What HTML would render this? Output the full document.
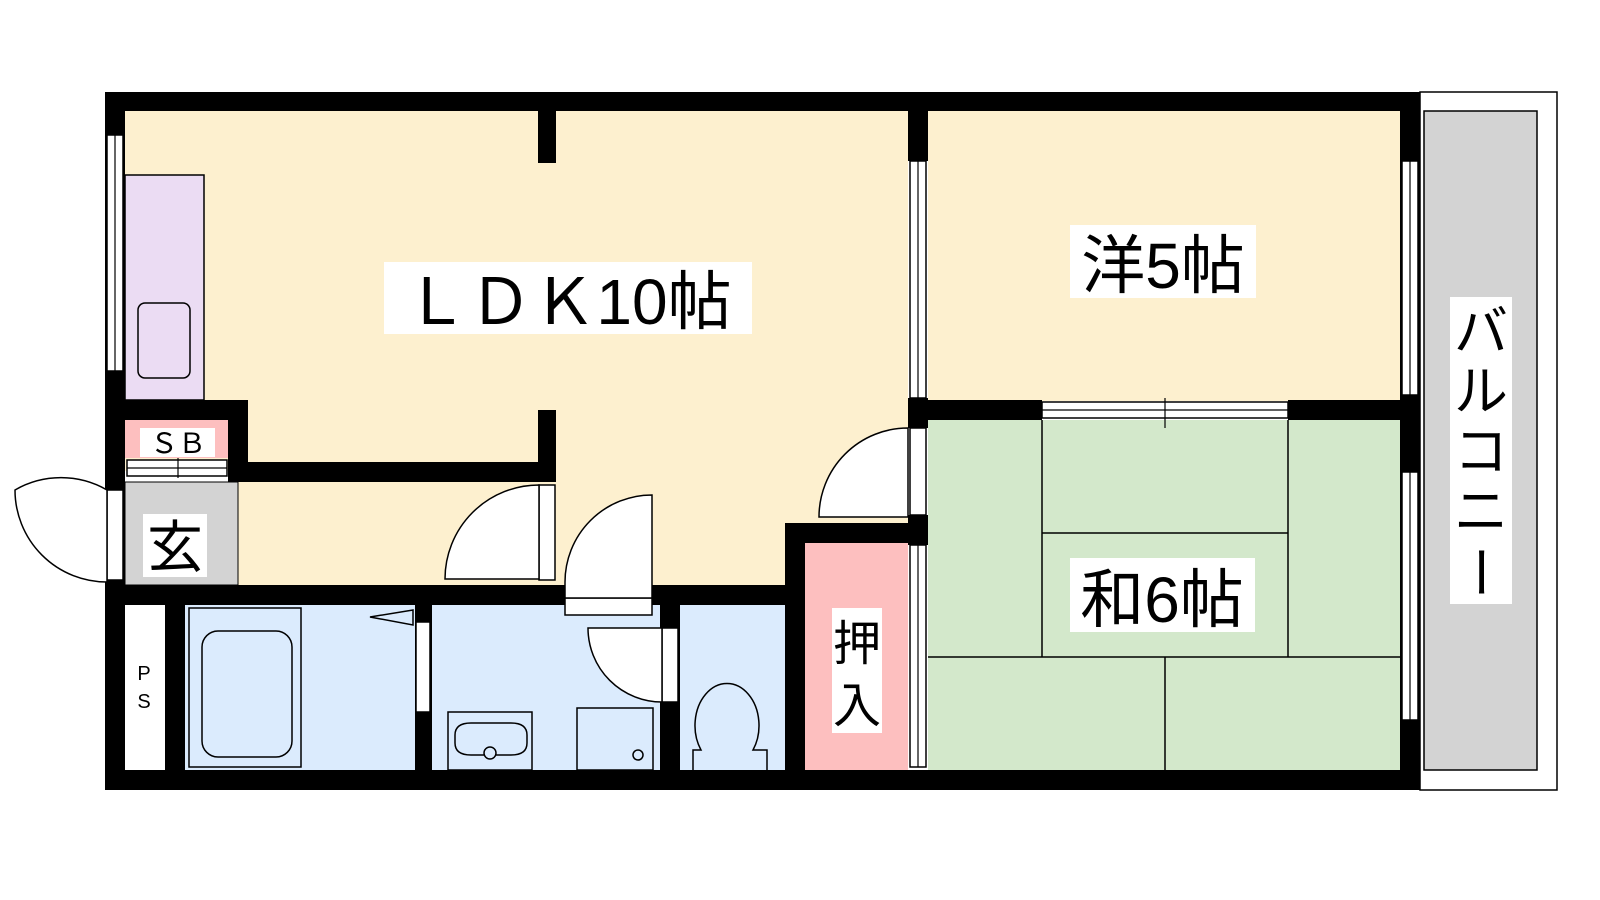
<!DOCTYPE html>
<html><head><meta charset="utf-8"><style>
html,body{margin:0;padding:0;background:#fff;}
svg{display:block;}
text{font-family:"Liberation Sans","Noto Sans CJK JP",sans-serif;}
</style></head><body>
<svg width="1600" height="900" viewBox="0 0 1600 900" xmlns="http://www.w3.org/2000/svg">
<rect width="1600" height="900" fill="#fff"/>
<!-- balcony -->
<rect x="1420" y="92" width="137" height="698" fill="#fff" stroke="#000" stroke-width="1.5"/>
<rect x="1424" y="111" width="113" height="659" fill="#d3d3d3" stroke="#000" stroke-width="1.5"/>
<!-- rooms -->
<rect x="125" y="111" width="783" height="360" fill="#fdf0cf"/>
<rect x="545" y="400" width="363" height="185" fill="#fdf0cf"/>
<rect x="238" y="470" width="310" height="115" fill="#fdf0cf"/>
<rect x="785" y="520" width="123" height="10" fill="#fdf0cf"/>
<rect x="928" y="111" width="472" height="290" fill="#fdf0cf"/>
<rect x="928" y="420" width="472" height="350" fill="#d3e8cb"/>
<rect x="805" y="543" width="103" height="227" fill="#fdbfbf"/>
<rect x="125" y="175" width="79" height="225" fill="#ebdcf3" stroke="#000" stroke-width="1.5"/>
<rect x="138" y="303" width="52" height="75" rx="7" fill="none" stroke="#000" stroke-width="1.5"/>
<rect x="125" y="420" width="103" height="38" fill="#fdbfbf"/>
<rect x="125" y="482" width="113" height="103" fill="#d3d3d3" stroke="#000" stroke-width="1"/>
<rect x="125" y="605" width="40" height="165" fill="#fff"/>
<rect x="185" y="605" width="230" height="165" fill="#dbebfd"/>
<rect x="432" y="605" width="228" height="165" fill="#dbebfd"/>
<rect x="680" y="605" width="105" height="165" fill="#dbebfd"/>
<!-- tatami lines -->
<g stroke="#000" stroke-width="1.5" fill="none">
<line x1="1042" y1="420" x2="1042" y2="657"/><line x1="1288" y1="420" x2="1288" y2="657"/>
<line x1="1042" y1="533" x2="1288" y2="533"/><line x1="928" y1="657" x2="1400" y2="657"/>
<line x1="1165" y1="657" x2="1165" y2="770"/>
<!-- bath fixtures -->
<rect x="189" y="608" width="112" height="159"/>
<rect x="202" y="631" width="90" height="126" rx="16"/>
<rect x="448" y="712" width="84" height="58"/>
<path d="M455 735 q0-12 16-12 h40 q16 0 16 12 v8 q0 12-16 12 h-40 q-16 0-16-12z"/>
<circle cx="490" cy="753" r="6" fill="#dbebfd"/>
<rect x="577" y="708" width="76" height="62"/>
<circle cx="638" cy="755" r="5"/>
<path d="M693 770 v-20 h8 a32 42 0 1 1 52 0 h14 v20"/>
<polygon points="370,617 413,610 413,625"/>
</g>
<!-- walls -->
<g fill="#000">
<rect x="105" y="92" width="1315" height="19"/>
<rect x="105" y="770" width="1315" height="20"/>
<rect x="105" y="92" width="20" height="698"/>
<rect x="1400" y="92" width="20" height="698"/>
<rect x="538" y="111" width="18" height="52"/>
<rect x="538" y="410" width="18" height="72"/>
<rect x="908" y="111" width="20" height="50"/>
<rect x="908" y="398" width="20" height="30"/>
<rect x="908" y="515" width="20" height="30"/>
<rect x="928" y="400" width="114" height="20"/>
<rect x="1288" y="400" width="112" height="20"/>
<rect x="105" y="400" width="143" height="20"/>
<rect x="228" y="400" width="20" height="82"/>
<rect x="228" y="462" width="328" height="20"/>
<rect x="105" y="585" width="680" height="20"/>
<rect x="785" y="523" width="20" height="267"/>
<rect x="785" y="523" width="143" height="20"/>
<rect x="165" y="605" width="20" height="165"/>
<rect x="415" y="605" width="17" height="165"/>
<rect x="660" y="605" width="20" height="165"/>
</g>
<!-- windows / door leafs (white) -->
<g fill="#fff" stroke="#000" stroke-width="1.5">
<rect x="1042" y="402" width="246" height="16"/>
<rect x="910" y="161" width="16" height="237"/>
<rect x="1402" y="161" width="16" height="234"/>
<rect x="1402" y="472" width="16" height="248"/>
<rect x="107" y="135" width="16" height="236"/>
<rect x="127" y="460" width="100" height="16"/>
<rect x="107" y="490" width="16" height="90"/>
<rect x="910" y="428" width="16" height="87"/>
<rect x="910" y="545" width="16" height="222"/>
<rect x="539" y="485" width="16" height="95"/>
<rect x="565" y="598" width="87" height="17"/>
<rect x="416" y="622" width="14" height="90"/>
<rect x="662" y="628" width="16" height="74"/>
<path d="M539 485 A94 94 0 0 0 445 579 H539Z"/>
<path d="M652 495 A87 87 0 0 0 565 582 V598 H652Z"/>
<path d="M908 428 A89 89 0 0 0 819 517 H908Z"/>
<path d="M107 490 A92 92 0 0 0 15 490 A92 92 0 0 0 107 582Z" fill="#fff"/>
<path d="M662 628 H588 A74 74 0 0 0 662 702Z"/>
</g>
<g stroke="#000" stroke-width="1.2">
<line x1="1042" y1="410" x2="1288" y2="410"/><line x1="1165" y1="398" x2="1165" y2="428"/>
<line x1="918" y1="161" x2="918" y2="398"/><line x1="1410" y1="161" x2="1410" y2="395"/>
<line x1="1410" y1="472" x2="1410" y2="720"/><line x1="115" y1="135" x2="115" y2="371"/>
<line x1="127" y1="468" x2="227" y2="468"/><line x1="918" y1="545" x2="918" y2="767"/>
<line x1="178" y1="458" x2="178" y2="478"/>
</g>
<!-- labels -->
<rect x="384" y="262" width="368" height="72" fill="#fff"/>
<text x="568" y="324" font-size="64" text-anchor="middle">ＬＤＫ10帖</text>
<rect x="1070" y="225" width="186" height="73" fill="#fff"/>
<text x="1163" y="288" font-size="64" text-anchor="middle">洋5帖</text>
<rect x="1070" y="558" width="185" height="74" fill="#fff"/>
<text x="1162" y="622" font-size="64" text-anchor="middle">和6帖</text>
<rect x="832" y="608" width="50" height="125" fill="#fff"/>
<text x="857" y="660" font-size="48" text-anchor="middle">押</text>
<text x="857" y="722" font-size="48" text-anchor="middle">入</text>
<rect x="1450" y="297" width="62" height="307" fill="#fff"/>
<g font-size="54" text-anchor="middle">
<text x="1481" y="350">バ</text><text x="1481" y="410">ル</text><text x="1481" y="470">コ</text><text x="1481" y="530">ニ</text><text x="1481" y="592" transform="rotate(90 1481 572)">ー</text>
</g>
<rect x="143" y="514" width="64" height="63" fill="#fff"/>
<text x="175" y="567" font-size="56" text-anchor="middle">玄</text>
<rect x="140" y="428" width="75" height="29" fill="#fff"/>
<text x="178" y="453" font-size="28" text-anchor="middle">ＳＢ</text>
<text x="144" y="680" font-size="20" text-anchor="middle">P</text>
<text x="144" y="708" font-size="20" text-anchor="middle">S</text>
</svg>
</body></html>
